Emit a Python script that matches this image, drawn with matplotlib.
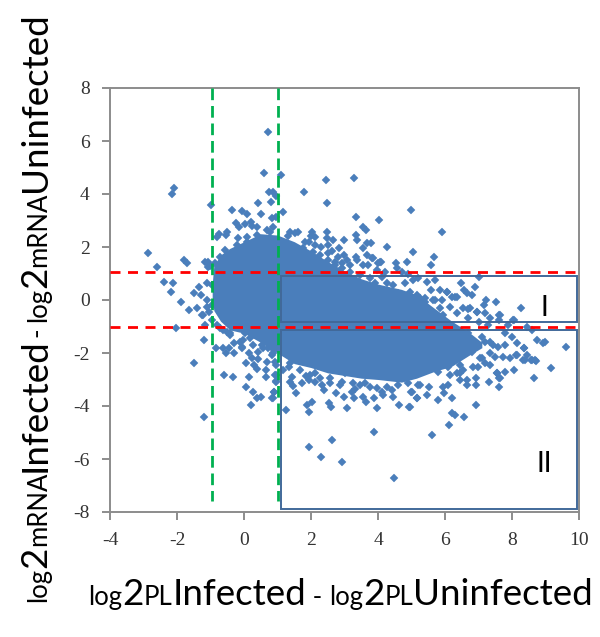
"""Scatter of mRNA change against PL change, infected vs uninfected."""

import matplotlib
matplotlib.use("Agg")
import matplotlib.pyplot as plt
from matplotlib.patches import Rectangle

plt.rcParams["axes.unicode_minus"] = False

BLUE = "#4a7ebb"
BOX = "#41699a"

# dense core of the cloud, read as an envelope per x column
core_x = [-0.95, -0.9, -0.7, -0.42, 0.0, 0.5, 1.0, 1.5, 2.0, 2.5, 3.0, 3.5, 4.0, 4.7, 5.15, 5.67, 6.2, 6.7, 7.1]
core_hi = [0.6, 1.3, 1.7, 1.95, 2.2, 2.5, 2.45, 2.2, 1.85, 1.45, 1.1, 0.8, 0.6, 0.4, 0.2, -0.3, -0.8, -1.2, -1.6]
core_lo = [0.1, -0.4, -0.8, -1.13, -1.25, -1.6, -2.0, -2.4, -2.55, -2.75, -2.85, -2.95, -3.0, -3.1, -2.95, -2.7, -2.5, -2.1, -1.8]

# individually readable points around the core
upper_x = [0.71, 0.61, -2.08, -2.14, -0.99, 0.75, 0.88, 0.95, 0.81, 0.41, 0.51, -0.35, -0.05, 0.10, -0.24, -0.15, 0.03, 0.20, 0.23, 0.38,
           -0.50, -0.54, -0.75, -0.80, -0.17, 0.10, 0.97, 0.83, 0.88, 0.78, 1.10,
           2.44, 3.29, 1.79, 2.49, 4.98, 1.15, 3.33, 4.03, 3.54, 3.63, 2.49, 3.33, 3.38, 2.99,
           1.37, 1.62, 1.32, 1.52, 2.04, 1.99, 2.12, 1.82, 1.95, 2.12, 2.29, 2.49, 2.67, 2.52, 2.84, 2.62, 2.52,
           3.68, 3.78, 3.56, 4.28, 5.03, 3.68, 3.86, 3.34, 3.38, 4.08, 4.01, 4.54, 4.88, 3.06, 2.99, 2.82, 3.16, 3.56, 3.71,
           2.72, 2.92, 3.96, 4.71, 4.21, 5.92, 5.67, 5.57]
upper_y = [6.35, 4.78, 4.21, 4.01, 3.57, 4.09, 4.09, 3.92, 3.71, 3.65, 3.26, 3.40, 3.35, 3.26, 2.89, 2.75, 2.87, 2.96, 2.80, 2.75,
           2.58, 2.45, 2.49, 2.39, 2.33, 2.39, 3.14, 3.08, 2.77, 2.58, 4.72,
           4.53, 4.59, 4.09, 3.65, 3.40, 3.31, 3.14, 3.02, 2.77, 2.64, 2.58, 2.45, 2.26, 2.26,
           2.58, 2.58, 2.42, 2.52, 2.58, 2.42, 2.36, 2.20, 2.20, 2.08, 2.01, 2.33, 2.26, 2.08, 1.95, 1.86, 1.76,
           2.14, 2.14, 1.95, 2.01, 1.82, 1.70, 1.57, 1.63, 1.51, 1.45, 1.38, 1.38, 1.45, 1.51, 1.70, 1.63, 1.32, 1.32, 1.32,
           1.32, 1.19, 1.13, 1.07, 1.07, 2.58, 1.64, 1.32]

left_x = [-2.88, -2.59, -1.78, -1.69, -1.08, -1.02, -2.39, -2.13, -2.18, -1.88, -1.48, -1.28, -1.63, -1.39, -2.03, -1.15, -1.18,
          -1.33, -1.11, -0.97, -1.15, -1.07, -1.23, -0.97, -1.11, -1.24, -1.05, -1.10, -1.48, -1.18,
          -0.84, -0.64, -0.45, -0.54, -0.30, -0.29, -0.07, -0.12, -0.05, 0.16, 0.23, 0.43, 0.43, 0.70, 0.06, 0.30, 0.40, 0.66, 0.16, 0.66,
          -0.59, -0.34, 0.06, 0.26, 0.50, 0.40, 0.90, 0.85, 0.21, 0.95, 0.97, 0.93, 0.88, -0.42, -0.52, -0.72, 0.03, 0.18, 0.53, 0.73, 0.83]
left_y = [1.76, 1.26, 1.51, 1.38, 1.45, 1.30, 0.69, 0.63, 0.31, -0.06, 0.25, 0.19, -0.38, -0.31, -1.07, -0.95, -1.51,
          0.50, 0.63, 0.57, 1.45, 1.26, -0.57, -0.19, 0.0, -0.57, -0.44, -0.25, -2.39, -4.40,
          -1.82, -1.82, -1.82, -2.01, -2.01, -1.64, -1.82, -1.57, -1.76, -2.01, -2.20, -1.95, -2.24, -2.33, -2.39, -2.45, -2.62, -2.64, -2.89, -2.89,
          -2.83, -2.89, -3.27, -3.46, -3.65, -3.71, -3.46, -3.71, -3.96, -3.08, -2.83, -2.33, -2.01, -1.26, -1.20, -1.07, -1.26, -1.45, -1.70, -1.82, -1.82]

lower_x = [4.49, 3.88, 2.64, 1.94, 2.29, 2.94, 1.24, 1.94, 2.04, 1.89, 2.55, 2.59, 3.08, 3.98, 4.64, 4.94,
           0.86, 0.90, 1.55, 2.74, 2.99, 3.29, 3.64, 3.54, 3.88, 4.44, 4.98, 5.15, 4.11, 4.16,
           3.21, 3.31, 2.40, 2.32, 2.12, 1.94, 1.85, 1.74, 1.45, 1.37, 1.42, 1.34, 1.17, 0.92, 0.96, 0.97,
           2.87, 3.46, 3.76, 4.41, 5.20, 2.12, 2.57, 3.02]
lower_y = [-6.73, -4.97, -5.28, -5.54, -5.91, -6.10, -4.15, -4.21, -3.86, -3.96, -3.90, -4.03, -4.09, -4.09, -3.96, -4.03,
           -3.71, -3.46, -3.52, -3.52, -3.65, -3.71, -3.84, -3.65, -3.71, -3.65, -3.46, -3.71, -3.46, -3.59,
           -3.46, -3.37, -3.40, -3.21, -3.08, -3.02, -2.87, -3.15, -3.25, -3.08, -2.89, -2.52, -2.64, -2.83, -3.04, -2.45,
           -3.21, -3.21, -3.27, -3.40, -3.21, -2.74, -2.96, -2.77]

right_x = [7.01, 6.47, 6.89, 6.80, 6.58, 6.67, 5.47, 5.57, 6.07, 6.37, 6.22, 7.51, 7.21, 7.16, 8.26, 6.97, 6.55, 6.70, 7.19, 7.62,
           7.34, 7.62, 8.06, 7.89, 8.46, 7.79, 7.99, 8.16, 8.76, 8.93, 8.98, 8.37, 8.44, 8.34, 8.56, 8.72, 8.12, 7.94, 9.15, 8.66,
           7.79, 7.59, 7.44, 7.19, 7.34, 7.49, 7.74, 7.34, 7.56, 7.64, 7.04, 6.85, 6.55, 6.35, 6.15,
           8.06, 7.62, 7.62, 7.31, 6.92, 6.92, 6.67, 6.67, 6.45, 6.45, 6.10, 5.95, 5.52, 5.25, 5.47, 5.98, 6.22, 5.78, 5.15, 5.0,
           6.92, 6.22, 6.30, 6.57, 6.13, 5.62, 4.96, 7.54, 7.79, 7.19, 6.99, 8.14, 8.39, 8.59,
           9.6, 8.61, 8.36, 8.69, 5.70, 5.85, 6.05, 5.2, 4.9, 5.4, 5.65, 5.9, 6.3, 6.75, 6.95, 7.64, 8.04, 4.56, 4.06, 3.81]
right_y = [0.88, 0.63, 0.48, 0.19, 0.38, 0.25, 0.69, 0.38, 0.31, 0.13, 0.13, -0.06, 0.0, -0.19, -0.31, -0.44, -0.31, -0.34, -0.50, -0.57,
           -0.69, -0.75, -0.75, -0.94, -1.01, -1.26, -1.38, -1.64, -1.51, -1.64, -1.60, -1.82, -2.08, -2.26, -2.26, -2.29, -2.08, -2.20, -2.58, -2.96,
           -1.70, -1.76, -1.70, -1.57, -2.01, -2.14, -2.14, -2.45, -2.77, -2.96, -2.20, -2.51, -2.64, -2.77, -2.83,
           -2.64, -2.96, -3.27, -3.08, -2.96, -3.21, -3.02, -3.21, -3.02, -2.77, -3.21, -3.27, -3.30, -3.21, -3.59, -3.52, -3.71, -3.77, -3.71, -3.46,
           -3.96, -4.28, -4.35, -4.40, -4.72, -5.11, -4.03, -2.74, -2.70, -2.39, -2.52, -2.08, -2.26, -2.26,
           -1.76, -1.15, -1.83, -2.27, 0.75, 0.38, 0.31, 0.82, 1.0, 0.06, 0.0, 0.0, 0.13, -0.3, -0.44, -0.57, -0.76, 1.19, 1.45, 1.57]

# points hugging the edge of the core
edge_x = [1.77, 2.07, 2.27, 2.52, 2.72, 2.92, 3.16, 3.46, 3.76, 4.11, 4.46, 4.81, 5.05, 3.76, 4.16, 4.61, 4.96, 5.15, 4.26, 3.91,
          5.25, 5.40, 5.70, 5.85, 6.15, 5.95, 6.35, 6.70, 7.0, 7.29, 6.70, 7.09, 7.34, 6.95, 6.65, 6.45, 6.80, 7.09, 6.45, 6.1, 5.8,
          1.37, 1.67, 1.97, 2.27, 2.57, 2.92, 3.26, 3.61, 3.96, 4.26, 4.61, 4.91,
          -0.72, -0.57, -0.87, -0.22, 0.08, 0.38, 0.68, -0.82, -0.62, -0.42, -0.02, 0.28, 0.58, 0.83, -0.97]
edge_y = [1.95, 1.82, 1.70, 1.51, 1.45, 1.38, 1.07, 0.94, 0.82, 0.88, 0.57, 0.63, 0.75, 0.44, 0.31, 0.25, 0.31, 0.19, 0.63, 0.63,
          0.06, -0.06, 0.0, -0.31, -0.25, -0.57, -0.5, -0.69, -0.82, -0.95, -1.26, -1.38, -1.57, -1.70, -1.51, -1.95, -1.95, -2.2, -2.45, -2.52, -2.7,
          -2.39, -2.64, -2.83, -2.96, -3.15, -3.08, -3.15, -3.15, -3.33, -3.27, -3.21, -3.15,
          1.63, 1.89, 1.38, 2.07, 2.2, 2.45, 2.64, -0.94, -1.13, -1.32, -1.51, -1.70, -1.82, -2.08, -0.76]

x_ticks = [-4, -2, 0, 2, 4, 6, 8, 10]
y_ticks = [-8, -6, -4, -2, 0, 2, 4, 6, 8]

x_label = [("log", 18.5), ("2", 26.5), ("PL", 18.5), ("Infected", 26.5), (" - ", 18.5),
           ("log", 18.5), ("2", 26.5), ("PL", 18.5), ("Uninfected", 26.5)]
y_label = [("log", 18.5), ("2", 26.5), ("mRNA", 18.5), ("Infected", 26.5), ("- ", 18.5),
           ("log", 18.5), ("2", 26.5), ("mRNA", 18.5), ("Uninfected", 26.5)]


def mixed_label(fig, pieces, x, y, vertical=False):
    """Lay out runs of different font size along one baseline (pixels from bottom left)."""
    rend = fig.canvas.get_renderer()
    W, H = fig.bbox.width, fig.bbox.height
    for s, size in pieces:
        fig.text(x / W, y / H, s, fontsize=size, family="Lato", color="black",
                 ha="left", va="baseline", rotation=90 if vertical else 0,
                 rotation_mode="anchor")
        probe = fig.text(0, 0, s.replace(" ", "\u00a0"), fontsize=size, family="Lato")
        adv = probe.get_window_extent(rend).width
        probe.remove()
        if vertical:
            y += adv
        else:
            x += adv


fig = plt.figure(figsize=(6.0, 6.37), dpi=100)
ax = fig.add_axes([110 / 600, 1 - 512 / 637, 469 / 600, 424 / 637])

ax.fill_between(core_x, core_lo, core_hi, color=BLUE, linewidth=0, zorder=2)
for xs, ys in [(upper_x, upper_y), (left_x, left_y), (lower_x, lower_y), (right_x, right_y), (edge_x, edge_y)]:
    ax.plot(xs, ys, ls="none", marker="D", ms=3.8, mfc=BLUE, mec=BLUE, mew=0.3, zorder=3)

ax.plot([-4, 9.95], [1.06, 1.06], color="#ff0000", lw=2.0, dashes=(3.6, 2.7), zorder=4)
ax.plot([-4, 9.95], [-1.02, -1.02], color="#ff0000", lw=2.0, dashes=(3.6, 2.7), zorder=4)
ax.plot([-0.97, -0.97], [8, -7.6], color="#00b050", lw=2.0, dashes=(4.2, 2.1), zorder=4)
ax.plot([1.0, 1.0], [8, -7.6], color="#00b050", lw=2.0, dashes=(4.2, 2.1), zorder=4)

ax.add_patch(Rectangle((1.1, -0.83), 8.84, 1.74, fill=False, ec=BOX, lw=1.4, zorder=5))
ax.add_patch(Rectangle((1.1, -7.89), 8.84, 6.76, fill=False, ec=BOX, lw=1.4, zorder=5))
ax.text(8.96, -0.30, "I", family="Lato", fontsize=20, ha="center", va="center", zorder=6)
ax.text(8.96, -6.19, "II", family="Lato", fontsize=20, ha="center", va="center", zorder=6)

ax.set_xlim(-4, 10)
ax.set_ylim(-8, 8)
ax.set_xticks(x_ticks)
ax.set_yticks(y_ticks)
ax.tick_params(length=5.5, width=1.4, color="#8c8c8c", labelcolor="#333333", labelsize=14, pad=9)
for lab in ax.get_xticklabels() + ax.get_yticklabels():
    lab.set_family("Liberation Serif")
for sp in ax.spines.values():
    sp.set_color("#8c8c8c")
    sp.set_linewidth(1.4)

mixed_label(fig, x_label, 88, 637 - 605)
mixed_label(fig, y_label, 46, 637 - 602, vertical=True)

fig.savefig("out.png", dpi=100)
